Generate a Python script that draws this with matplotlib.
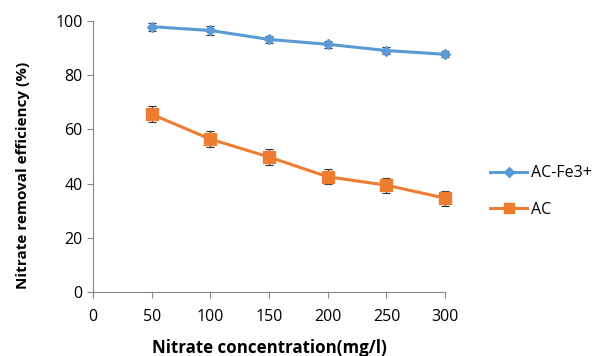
import matplotlib.pyplot as plt
from matplotlib.lines import Line2D

# concentration (mg/l)
conc = [50, 100, 150, 200, 250, 300]

# removal efficiency (%)
ac_fe = [97.9, 96.5, 93.2, 91.4, 89.1, 87.7]
ac_fe_err = [1.5, 1.5, 1.4, 1.4, 1.4, 1.1]
ac = [65.6, 56.4, 49.8, 42.5, 39.4, 34.6]
ac_err = [3.0, 3.0, 2.8, 2.8, 2.8, 2.8]

blue = '#5B9BD5'
orange = '#ED7D31'

plt.rcParams['font.family'] = ['Open Sans', 'DejaVu Sans']

fig = plt.figure(figsize=(5.92, 3.56), dpi=100)
ax = fig.add_axes([0.157, 0.18, 0.595, 0.761])

for y, err, c, m, ms in [(ac_fe, ac_fe_err, blue, 'D', 5.5), (ac, ac_err, orange, 's', 8)]:
    line, caps, bars = ax.errorbar(conc, y, yerr=err, color=c, marker=m, markersize=ms,
                                   linewidth=2.2, ecolor='#333333', elinewidth=0.8,
                                   capsize=3, capthick=0.8)
    line.set_clip_on(False)
    for cp in caps:
        cp.set_clip_on(False)
    for b in bars:
        b.set_clip_on(False)

ax.set_xlim(0, 300)
ax.set_ylim(0, 100)
ax.set_xticks(range(0, 301, 50))
ax.set_yticks(range(0, 101, 20))
ax.tick_params(labelsize=11.5, color='#888888', length=4)
ax.tick_params(axis='x', pad=8)
for side in ['top', 'right']:
    ax.spines[side].set_visible(False)
for side in ['left', 'bottom']:
    ax.spines[side].set_color('#888888')
ax.set_xlabel('Nitrate concentration(mg/l)', fontsize=12.2, fontweight='bold')
ax.set_ylabel('Nitrate removal efficiency (%)', fontsize=11, fontweight='bold')
ax.xaxis.set_label_coords(0.5, -0.175)
ax.yaxis.set_label_coords(-0.179, 0.43)

handles = [Line2D([], [], color=blue, marker='D', markersize=5, linewidth=2.2),
           Line2D([], [], color=orange, marker='s', markersize=7, linewidth=2.2)]
ax.legend(handles, ['AC-Fe3+', 'AC'], loc='center left', bbox_to_anchor=(1.11, 0.37),
          frameon=False, fontsize=11.5, handlelength=2.3, labelspacing=1.3,
          handletextpad=0.25, borderaxespad=0)

fig.savefig('out.png', dpi=100)
